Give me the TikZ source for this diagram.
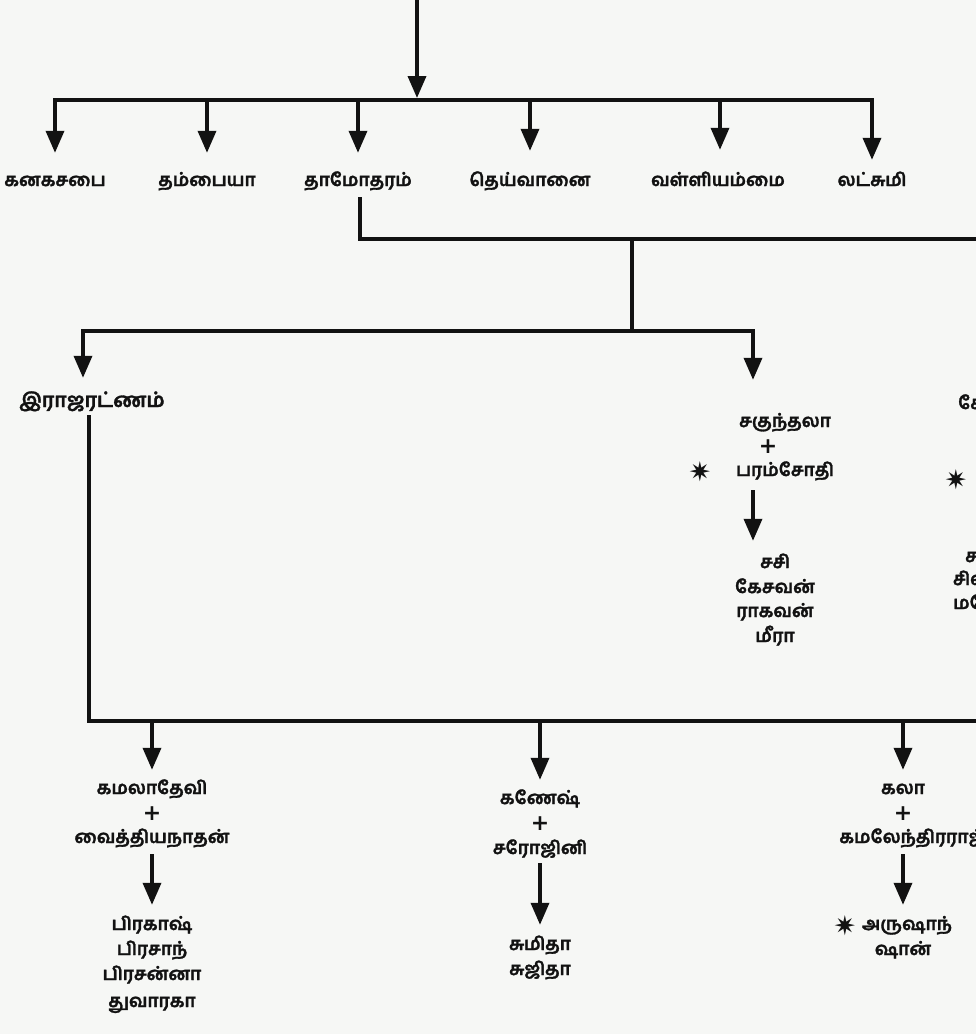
\documentclass[tikz,border=0pt]{standalone}
\usepackage{fontspec}
\newfontfamily\tamil[Script=Tamil,FakeBold=1.6]{Hind Madurai}
\newfontfamily\symf{DejaVu Sans}
\usetikzlibrary{arrows.meta}
\definecolor{paper}{RGB}{246,247,245}
\definecolor{ink}{RGB}{18,18,18}
\tikzset{
  topl/.style={font=\tamil\bfseries\fontsize{18}{20}\selectfont, text=ink, text height=12pt, text depth=4pt, inner xsep=2pt, inner ysep=0pt},
  nm/.style={font=\tamil\bfseries\fontsize{18}{20}\selectfont, text=ink, text height=12pt, text depth=4pt, inner xsep=1pt, inner ysep=0pt},
  pl/.style={font=\symf\bfseries\fontsize{22}{22}\selectfont, text=ink, inner sep=0pt},
  st/.style={font=\symf\fontsize{27}{27}\selectfont, text=ink, inner sep=0pt},
  arr/.style={draw=ink, line width=3.6pt, -{Triangle[width=18pt,length=22pt]}},
  ln/.style={draw=ink, line width=3.6pt},
  bar/.style={draw=ink, line width=4.4pt, line cap=rect},
}
\begin{document}
\begin{tikzpicture}[x=1pt,y=-1pt]
\useasboundingbox (0,0) rectangle (976,1034);
\clip (0,0) rectangle (976,1034);
\fill[paper] (0,0) rectangle (976,1034);

% ---- generation 1
\coordinate (src) at (417,0);
\coordinate (b1) at (417,98);
\coordinate (b1L) at (55,100);
\coordinate (b1R) at (872,100);
\coordinate (b1a) at (207,100);
\coordinate (b1b) at (358,100);
\coordinate (b1c) at (530,100);
\coordinate (b1d) at (720,100);
\draw[arr] (src) -- (b1);
\draw[bar] (b1L) -- (b1R);

\node[topl] (kan) at (55,182) {கனகசபை};
\node[topl] (tham) at (207,182) {தம்பையா};
\node[topl] (dam) at (358,182) {தாமோதரம்};
\node[topl] (dei) at (530,182) {தெய்வானை};
\node[topl] (val) at (718,182) {வள்ளியம்மை};
\node[topl] (lat) at (872,182) {லட்சுமி};

\draw[arr, shorten >=21pt] (b1L) -- (b1L |- kan.north);
\draw[arr, shorten >=21pt] (b1a) -- (b1a |- tham.north);
\draw[arr, shorten >=21pt] (b1b) -- (b1b |- dam.north);
\draw[arr, shorten >=23pt] (b1c) -- (b1c |- dei.north);
\draw[arr, shorten >=24pt] (b1d) -- (b1d |- val.north);
\draw[arr, shorten >=14pt] (b1R) -- (b1R |- lat.north);

% ---- Damotharam's family
\coordinate (c1) at (360,239);
\coordinate (c1r) at (990,239);
\coordinate (c2) at (632,239);
\coordinate (c3) at (632,331);
\coordinate (c4L) at (83,331);
\coordinate (c4R) at (753,331);
\draw[ln, shorten <=7pt] (dam.south -| c1) -- (c1) -- (c1r);
\draw[ln] (c2) -- (c3);
\draw[bar] (c4L) -- (c4R);

\node[nm, font=\tamil\bfseries\fontsize{20}{22}\selectfont] (raja) at (92,403) {இராஜரட்ணம்};
\draw[arr, shorten >=17pt] (c4L) -- (c4L |- raja.north);

\node[nm] (sak) at (785,423) {சகுந்தலா};
\node[pl] (p1) at (768,447) {+};
\node[nm] (param) at (785,472) {பரம்சோதி};
\node[st] (s1) at (700,472) {✷};
\draw[arr, shorten >=35pt] (c4R) -- (c4R |- sak.north);

\node[nm] (sasi) at (775,564) {சசி};
\node[nm] (kesa) at (775,589) {கேசவன்};
\node[nm] (raga) at (775,613) {ராகவன்};
\node[nm] (meera) at (775,638) {மீரா};
\draw[arr, shorten <=10pt, shorten >=15pt] (param.south -| c4R) -- (sasi.north -| c4R);

% ---- partially visible branch at the right edge
\node[nm, anchor=west] (r1) at (957,405) {கே};
\node[st] (r2) at (956,480) {✷};
\node[nm, anchor=west] (r3) at (964,558) {ச};
\node[nm, anchor=west] (r4) at (952,581) {சிவ};
\node[nm, anchor=west] (r5) at (952,605) {மகே};

% ---- Rajaratnam's family
\coordinate (c5) at (89,721);
\coordinate (c5r) at (990,721);
\coordinate (d1) at (152,721);
\coordinate (d2) at (540,721);
\coordinate (d3) at (903,721);
\draw[ln, shorten <=4pt] (raja.south -| c5) -- (c5);
\draw[bar] (c5) -- (c5r);

\node[nm] (kama) at (152,790) {கமலாதேவி};
\node[pl] (p2) at (152,814) {+};
\node[nm] (vai) at (152,839) {வைத்தியநாதன்};
\node[nm] (pra1) at (152,926) {பிரகாஷ்};
\node[nm] (pra2) at (152,951) {பிரசாந்};
\node[nm] (pra3) at (152,976) {பிரசன்னா};
\node[nm] (thu) at (152,1003) {துவாரகா};
\draw[arr, shorten >=12pt] (d1) -- (d1 |- kama.north);
\draw[arr, shorten <=7pt, shorten >=13pt] (vai.south -| d1) -- (pra1.north -| d1);

\node[nm] (gan) at (540,800) {கணேஷ்};
\node[pl] (p3) at (540,824) {+};
\node[nm] (saro) at (540,850) {சரோஜினி};
\node[nm] (sumi) at (540,946) {சுமிதா};
\node[nm] (suji) at (540,971) {சுஜிதா};
\draw[arr, shorten >=12pt] (d2) -- (d2 |- gan.north);
\draw[arr, shorten <=5pt, shorten >=13pt] (saro.south -| d2) -- (sumi.north -| d2);

\node[nm] (kala) at (903,790) {கலா};
\node[pl] (p4) at (903,814) {+};
\node[nm] (kamal) at (912,839) {கமலேந்திரராஜ்};
\node[nm] (aru) at (907,926) {அருஷாந்};
\node[st] (s2) at (845,926) {✷};
\node[nm] (shan) at (903,951) {ஷான்};
\draw[arr, shorten >=12pt] (d3) -- (d3 |- kala.north);
\draw[arr, shorten <=7pt, shorten >=13pt] (kamal.south -| d3) -- (aru.north -| d3);
\end{tikzpicture}
\end{document}
